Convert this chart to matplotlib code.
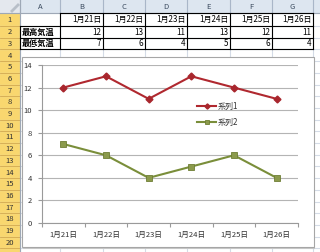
import matplotlib
matplotlib.use("Agg")
import matplotlib.pyplot as plt
from matplotlib.patches import Rectangle

plt.rcParams['font.family'] = ['Noto Sans CJK JP', 'DejaVu Sans']

dates = ["1月21日", "1月22日", "1月23日", "1月24日", "1月25日", "1月26日"]
row_labels = ["最高気温", "最低気温"]
high = [12, 13, 11, 13, 12, 11]
low = [7, 6, 4, 5, 6, 4]
series_names = ["系列1", "系列2"]
col_letters = ["A", "B", "C", "D", "E", "F", "G"]

W, H = 320, 252
fig = plt.figure(figsize=(W / 100, H / 100), dpi=100)
bg = fig.add_axes([0, 0, 1, 1])
bg.set_xlim(0, W)
bg.set_ylim(H, 0)
bg.axis("off")

# geometry of the sheet
col_x = [20, 60, 103, 145, 187, 230, 272, 313, 330]
hdr_bottom = 13
row_y = [13, 26] + [26 + 11.7 * i for i in range(1, 21)]

grid_c = "#D4DBE6"
# header backgrounds
bg.add_patch(Rectangle((0, 0), W, hdr_bottom, fc="#DDE6F0", ec="none", zorder=1))
bg.add_patch(Rectangle((0, 0), 20, hdr_bottom, fc="#E4E8EE", ec="none", zorder=1))
bg.plot([12, 18], [11, 5], color="#B8BFC8", lw=2, zorder=2)
bg.add_patch(Rectangle((0, hdr_bottom), 20, H, fc="#F9D76F", ec="none", zorder=1))
# grid lines
for x in col_x:
    bg.plot([x, x], [0, H], color=grid_c, lw=0.8, zorder=1.5)
for y in row_y:
    bg.plot([0, W], [y, y], color=grid_c, lw=0.8, zorder=1.5)
for x in col_x[:-1]:
    bg.plot([x, x], [0, hdr_bottom], color="#A9B6C8", lw=0.8, zorder=2)
for y in row_y:
    bg.plot([0, 20], [y, y], color="#D9A83A", lw=0.6, zorder=2)
bg.plot([20, 20], [0, H], color="#9EA8B6", lw=0.8, zorder=2)
bg.plot([0, W], [hdr_bottom, hdr_bottom], color="#9EA8B6", lw=0.8, zorder=2)

# header texts
for i, c in enumerate(col_letters):
    bg.text((col_x[i] + col_x[i + 1]) / 2, hdr_bottom / 2 + 0.5, c, ha="center", va="center",
            fontsize=5.5, color="#3A4A5E", zorder=3)
for r in range(1, 21):
    y0, y1 = row_y[r - 1], row_y[r]
    bg.text(10, (y0 + y1) / 2 + 0.3, str(r), ha="center", va="center", fontsize=5.5,
            color="#333333", zorder=3)

# table content
for i, d in enumerate(dates):
    bg.text(col_x[i + 2] - 1.5, (row_y[0] + row_y[1]) / 2 + 0.3, d, ha="right", va="center",
            fontsize=5.8, color="black", zorder=3)
for r, (lab, vals) in enumerate(zip(row_labels, [high, low])):
    y0, y1 = row_y[r + 1], row_y[r + 2]
    bg.text(col_x[0] + 1.5, (y0 + y1) / 2 + 0.3, lab, ha="left", va="center",
            fontsize=5.9, color="black", fontweight="bold", zorder=3)
    for i, v in enumerate(vals):
        bg.text(col_x[i + 2] - 2, (y0 + y1) / 2 + 0.3, str(v), ha="right", va="center",
                fontsize=5.8, color="black", zorder=3)
# table borders
bc = "black"
bg.plot([col_x[1], col_x[7]], [row_y[0], row_y[0]], color=bc, lw=0.8, zorder=3)
for y in row_y[1:4]:
    bg.plot([col_x[0], col_x[7]], [y, y], color=bc, lw=0.8, zorder=3)
bg.plot([col_x[0], col_x[0]], [row_y[1], row_y[3]], color=bc, lw=0.8, zorder=3)
for x in col_x[1:8]:
    bg.plot([x, x], [row_y[0], row_y[3]], color=bc, lw=0.8, zorder=3)

# chart area
cx0, cx1, cy0, cy1 = 21.5, 313.5, 57, 247
bg.add_patch(Rectangle((cx0 + 1.5, cy0 + 1.5), cx1 - cx0, cy1 - cy0, fc="#C8C8C8", ec="none", zorder=4))
bg.add_patch(Rectangle((cx0, cy0), cx1 - cx0, cy1 - cy0, fc="white", ec="#A6A6A6", lw=0.8, zorder=5))

# plot area
px0, px1, py_top, py_bot = 42, 298, 65, 223
ax = fig.add_axes([px0 / W, 1 - py_bot / H, (px1 - px0) / W, (py_bot - py_top) / H], zorder=6)
ax.set_facecolor("none")
x = list(range(len(dates)))
l1, = ax.plot(x, high, color="#B0282F", lw=1.5, marker="D", ms=3.5, mfc="#A8262D", mec="#A8262D",
              label=series_names[0], zorder=4)
l2, = ax.plot(x, low, color="#7A8E3A", lw=1.5, marker="s", ms=4.5, mfc="#8B9A4C", mec="#6E7E34",
              mew=0.6, label=series_names[1], zorder=4)
ax.set_xlim(-0.5, len(dates) - 0.5)
ax.set_ylim(0, 14)
ax.set_yticks(range(0, 15, 2))
ax.set_xticks(x)
ax.set_xticklabels(dates)
ax.set_xticks([i - 0.5 for i in range(len(dates) + 1)], minor=True)
ax.yaxis.grid(True, color="#B4B4B4", lw=0.8)
ax.set_axisbelow(True)
for s in ["top", "right"]:
    ax.spines[s].set_visible(False)
for s in ["left", "bottom"]:
    ax.spines[s].set_color("#9A9A9A")
    ax.spines[s].set_linewidth(0.8)
ax.tick_params(axis="x", which="major", length=0, pad=6, labelsize=5.5, labelcolor="#333333")
ax.tick_params(axis="x", which="minor", length=3, color="#9A9A9A", width=0.8)
ax.tick_params(axis="y", length=3, color="#9A9A9A", width=0.8, pad=4, labelsize=5.5,
               labelcolor="#333333")
leg = ax.legend(handles=[l1, l2], loc="center left",
                bbox_to_anchor=(193 / W, 1 - 114.5 / H), bbox_transform=fig.transFigure,
                frameon=False, fontsize=5.8, handlelength=2.4, handletextpad=0.2,
                labelspacing=0.9, borderpad=0, labelcolor="#333333", markerscale=0.75)

fig.savefig("out.png", dpi=100)
